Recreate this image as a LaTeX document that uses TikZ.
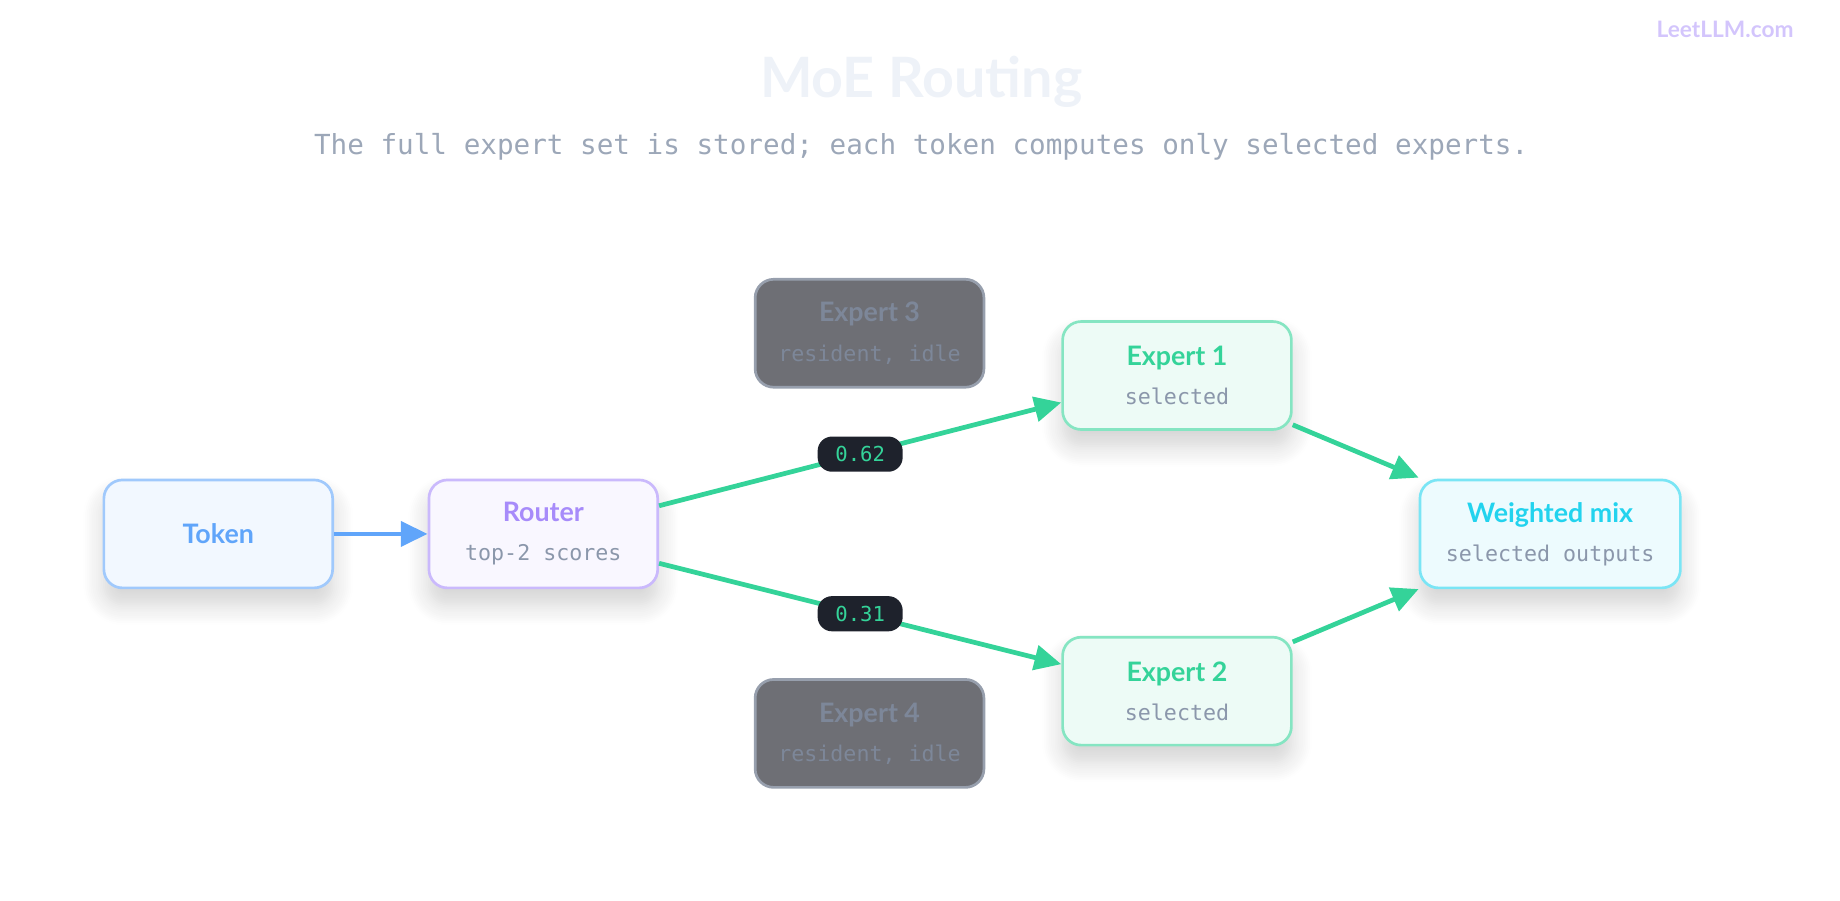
\documentclass[tikz,border=0pt]{standalone}
\usepackage{fontspec}
\setmainfont{Lato}
\newfontfamily\monofont{DejaVu Sans Mono}
\usetikzlibrary{arrows.meta,positioning,shadows.blur}

\definecolor{tokenblue}{HTML}{60A5FA}
\definecolor{routerpurple}{HTML}{A78BFA}
\definecolor{expgreen}{HTML}{34D399}
\definecolor{mixcyan}{HTML}{22D3EE}
\definecolor{subgray}{HTML}{8B97AB}
\definecolor{idlefill}{HTML}{6E6F75}
\definecolor{idletext}{HTML}{7D8799}
\definecolor{pilldark}{HTML}{1E222C}
\definecolor{titlecol}{HTML}{EEF2F8}
\newcommand{\subtxt}[2][subgray]{{\monofont\fontsize{10.5}{13}\selectfont\color{#1}#2}}
\newcommand{\headtxt}[2]{\textcolor{#1}{\bfseries\fontsize{13}{15}\selectfont #2}}

\begin{document}
\begin{tikzpicture}[
    x=0.02cm, y=-0.02cm,
    every node/.style={font=\fontsize{12}{14}\selectfont},
    box/.style={rectangle, draw, line width=1.3pt, rounded corners=9pt,
        minimum width=3.9cm, minimum height=1.84cm, align=center,
        blur shadow={shadow blur steps=12, shadow blur radius=10pt, shadow xshift=0pt,
            shadow yshift=-8pt, shadow opacity=18}},
    idle/.style={rectangle, draw=idletext!80!white, fill=idlefill, line width=1.3pt,
        rounded corners=9pt, minimum width=3.9cm, minimum height=1.84cm, align=center},
    pill/.style={rectangle, fill=pilldark, rounded corners=7pt, text=expgreen,
        font=\monofont\fontsize{10}{12}\selectfont, minimum width=1.45cm, minimum height=0.6cm},
    link/.style={line width=2.3pt, -{Triangle[length=13pt, width=12pt]}},
]
    \useasboundingbox (0,0) rectangle (1568,767);

    % Header
    \node[font=\fontsize{27}{30}\selectfont\bfseries, text=titlecol] (title) at (785,70) {MoE Routing};
    \node[font=\monofont\fontsize{13.4}{16}\selectfont, text=subgray!85] (subtitle) at (785,125)
        {The full expert set is stored; each token computes only selected experts.};
    \node[font=\fontsize{11}{12}\selectfont\bfseries, text=routerpurple!50] (logo) at (1470,25) {LeetLLM.com};

    % Nodes
    \node[box, draw=tokenblue!60, fill=tokenblue!8] (token) at (186,455) {\headtxt{tokenblue}{Token}};
    \node[box, draw=routerpurple!60, fill=routerpurple!7] (router) at (463,455)
        {\headtxt{routerpurple}{Router}\\[5pt]\subtxt{top-2 scores}};
    \node[idle] (exp3) at (741,284) {\headtxt{idletext}{Expert 3}\\[5pt]\subtxt[idletext]{resident, idle}};
    \node[idle] (exp4) at (741,625) {\headtxt{idletext}{Expert 4}\\[5pt]\subtxt[idletext]{resident, idle}};
    \node[box, draw=expgreen!60, fill=expgreen!9] (exp1) at (1003,320)
        {\headtxt{expgreen}{Expert 1}\\[5pt]\subtxt{selected}};
    \node[box, draw=expgreen!60, fill=expgreen!9] (exp2) at (1003,589)
        {\headtxt{expgreen}{Expert 2}\\[5pt]\subtxt{selected}};
    \node[box, draw=mixcyan!60, fill=mixcyan!8, minimum width=4.44cm] (mix) at (1321,455)
        {\headtxt{mixcyan}{Weighted mix}\\[5pt]\subtxt{selected outputs}};

    % Edges
    \draw[link, tokenblue] (token) -- (router);
    \draw[link, expgreen] (router.east |- 0,431) -- node[pill, pos=0.5] (w1) {0.62} (exp1.west |- 0,343);
    \draw[link, expgreen] (router.east |- 0,480) -- node[pill, pos=0.5] (w2) {0.31} (exp2.west |- 0,566);
    \draw[link, expgreen] (exp1.east |- 0,362) -- (mix.west |- 0,407);
    \draw[link, expgreen] (exp2.east |- 0,547) -- (mix.west |- 0,502);
\end{tikzpicture}
\end{document}
